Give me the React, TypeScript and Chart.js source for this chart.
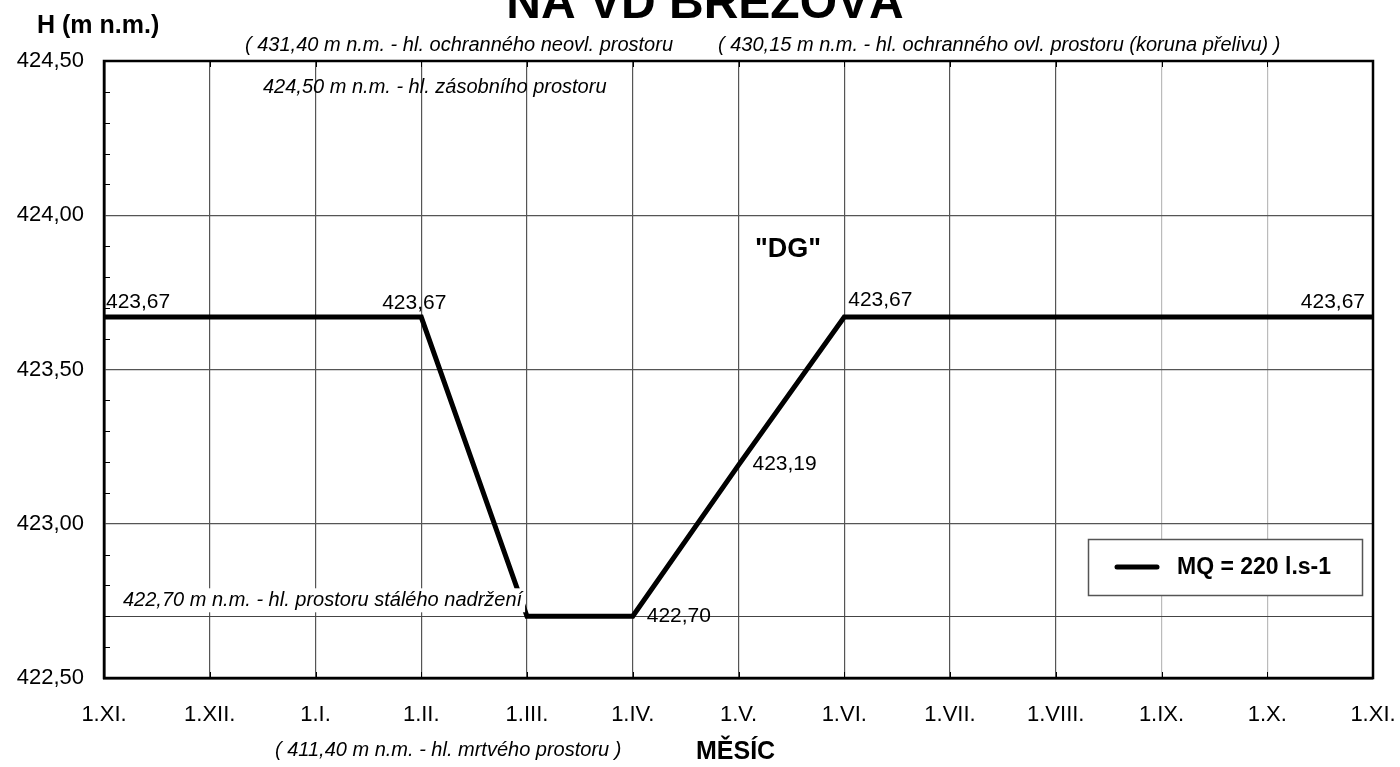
import React, { useEffect, useRef } from "react";
import { Chart, registerables } from "chart.js";

Chart.register(...registerables);

// ---------------- data ----------------
const chartTitle = "NA VD BŘEZOVÁ";
const yAxisTitle = "H (m n.m.)";
const xAxisTitle = "MĚSÍC";
const curveName = '"DG"';
const seriesName = "MQ = 220 l.s-1";

const months = [
  "1.XI.", "1.XII.", "1.I.", "1.II.", "1.III.", "1.IV.", "1.V.",
  "1.VI.", "1.VII.", "1.VIII.", "1.IX.", "1.X.", "1.XI.",
];
const levelMQ = [
  423.67, 423.67, 423.67, 423.67, 422.7, 422.7, 423.19,
  423.67, 423.67, 423.67, 423.67, 423.67, 423.67,
];
const labeledIdx = [0, 3, 5, 6, 7, 12];

const yMin = 422.5;
const yMax = 424.5;
const yStep = 0.5;
const yMinorStep = 0.1;
const reserveLevel = 422.7; // hl. prostoru stálého nadržení

const noteUpperLeft = "( 431,40 m n.m. - hl. ochranného neovl. prostoru";
const noteUpperRight = "( 430,15 m n.m. - hl. ochranného ovl. prostoru (koruna přelivu) )";
const noteStorage = "424,50 m n.m. - hl. zásobního prostoru";
const noteReserve = "422,70 m n.m. - hl. prostoru stálého nadržení";
const noteDead = "( 411,40 m n.m. - hl. mrtvého prostoru )";

// ---------------- styles ----------------
const FONT = '"Liberation Sans", Arial, Helvetica, sans-serif';
const labelPlacement: Record<number, { align: CanvasTextAlign; dx: number; dy: number }> = {
  0: { align: "left", dx: 2, dy: -15 },
  3: { align: "center", dx: -7, dy: -14 },
  5: { align: "left", dx: 14, dy: 0 },
  6: { align: "left", dx: 14, dy: -1 },
  7: { align: "left", dx: 4, dy: -17 },
  12: { align: "right", dx: -8, dy: -15 },
};

const fmt = (v: number) => v.toFixed(2).replace(".", ",");

const decorPlugin = {
  id: "decor",
  beforeDatasetsDraw(chart: any) {
    const { ctx, chartArea: a, scales } = chart;
    const y = scales.y;
    const x = scales.x;
    ctx.save();
    // reserve level line
    ctx.strokeStyle = "#444";
    ctx.lineWidth = 1.2;
    const yr = Math.round(y.getPixelForValue(reserveLevel)) + 0.5;
    ctx.beginPath();
    ctx.moveTo(a.left, yr);
    ctx.lineTo(a.right, yr);
    ctx.stroke();
    // minor ticks on y
    ctx.strokeStyle = "#000";
    ctx.lineWidth = 1;
    const n = Math.round((yMax - yMin) / yMinorStep);
    for (let i = 1; i < n; i++) {
      const v = yMin + i * yMinorStep;
      if (Math.abs(v / yStep - Math.round(v / yStep)) < 1e-6) continue;
      const py = Math.round(y.getPixelForValue(v)) + 0.5;
      ctx.beginPath();
      ctx.moveTo(a.left, py);
      ctx.lineTo(a.left + 6, py);
      ctx.stroke();
    }
    // x ticks inside top and bottom
    for (let i = 0; i < months.length; i++) {
      const px = Math.round(x.getPixelForValue(i)) + 0.5;
      ctx.beginPath();
      ctx.moveTo(px, a.top);
      ctx.lineTo(px, a.top + 6);
      ctx.moveTo(px, a.bottom);
      ctx.lineTo(px, a.bottom - 6);
      ctx.stroke();
    }
    ctx.restore();
  },
  afterDatasetsDraw(chart: any) {
    const { ctx, chartArea: a, scales } = chart;
    const y = scales.y;
    const meta = chart.getDatasetMeta(0);
    ctx.save();
    ctx.fillStyle = "#000";
    ctx.textBaseline = "middle";

    // reserve note with white box
    ctx.font = `italic 20px ${FONT}`;
    const yr = y.getPixelForValue(reserveLevel);
    const w = ctx.measureText(noteReserve).width;
    const nx = a.left + 19;
    const ny = yr - 16;
    ctx.fillStyle = "#fff";
    ctx.fillRect(nx - 5, ny - 12, w + 8, 24);
    ctx.fillStyle = "#000";
    ctx.textAlign = "left";
    ctx.fillText(noteReserve, nx, ny);

    // data labels
    ctx.font = `21px ${FONT}`;
    labeledIdx.forEach((i) => {
      const el = meta.data[i];
      const p = labelPlacement[i];
      ctx.textAlign = p.align;
      ctx.fillText(fmt(levelMQ[i]), el.x + p.dx, el.y + p.dy);
    });

    // storage note
    ctx.font = `italic 20px ${FONT}`;
    ctx.textAlign = "left";
    ctx.fillText(noteStorage, 263, y.getPixelForValue(yMax) + 26);

    // "DG"
    ctx.font = `bold 27px ${FONT}`;
    ctx.fillText(curveName, 755, 250);

    // legend box
    const lx = 1088, ly = 539, lw = 274, lh = 56;
    ctx.fillStyle = "#fff";
    ctx.fillRect(lx, ly, lw, lh);
    ctx.strokeStyle = "#555";
    ctx.lineWidth = 1.5;
    ctx.strokeRect(lx + 0.5, ly + 0.5, lw, lh);
    ctx.strokeStyle = "#000";
    ctx.lineWidth = 5;
    ctx.lineCap = "round";
    ctx.beginPath();
    ctx.moveTo(1117, ly + lh / 2);
    ctx.lineTo(1157, ly + lh / 2);
    ctx.stroke();
    ctx.fillStyle = "#000";
    ctx.font = `bold 23px ${FONT}`;
    ctx.fillText(seriesName, 1177, ly + lh / 2 + 1);

    // frame
    ctx.lineCap = "butt";
    ctx.strokeStyle = "#000";
    ctx.lineWidth = 2.5;
    ctx.strokeRect(a.left, a.top, a.right - a.left, a.bottom - a.top);
    ctx.restore();
  },
  afterDraw(chart: any) {
    const { ctx } = chart;
    ctx.save();
    ctx.fillStyle = "#000";
    ctx.textBaseline = "alphabetic";
    ctx.textAlign = "center";
    ctx.font = `bold 48px ${FONT}`;
    ctx.fillText(chartTitle, 705, 18);

    ctx.textBaseline = "middle";
    ctx.textAlign = "left";
    ctx.font = `bold 25px ${FONT}`;
    ctx.fillText(yAxisTitle, 37, 26);

    ctx.font = `italic 20px ${FONT}`;
    ctx.fillText(noteUpperLeft, 245, 45);
    ctx.fillText(noteUpperRight, 718, 45);
    ctx.fillText(noteDead, 275, 750);

    ctx.font = `bold 25px ${FONT}`;
    ctx.fillText(xAxisTitle, 696, 752);
    ctx.restore();
  },
};

export default function App() {
  const ref = useRef<HTMLCanvasElement | null>(null);

  useEffect(() => {
    if (!ref.current) return;
    const chart = new Chart(ref.current, {
      type: "line",
      data: {
        labels: months,
        datasets: [
          {
            label: seriesName,
            data: levelMQ,
            borderColor: "#000",
            borderWidth: 5,
            borderJoinStyle: "miter",
            pointRadius: 0,
            tension: 0,
            fill: false,
          },
        ],
      },
      options: {
        animation: false,
        responsive: false,
        maintainAspectRatio: false,
        layout: { padding: { left: 0, right: 27, top: 61, bottom: 0 } },
        plugins: {
          legend: { display: false },
          tooltip: { enabled: false },
          title: { display: false },
        },
        scales: {
          x: {
            type: "category",
            offset: false,
            grid: {
              color: (c: any) => (c.index === 10 || c.index === 11 ? "#bbb" : "#555"),
              lineWidth: 1.2,
              drawTicks: false,
            },
            border: { display: true, color: "#000", width: 2.5 },
            ticks: {
              color: "#000",
              font: { family: FONT, size: 22 },
              padding: 24,
              maxRotation: 0,
              autoSkip: false,
            },
            afterFit: (s: any) => {
              s.height = 89;
              s.paddingLeft = 0;
              s.paddingRight = 0;
            },
          },
          y: {
            min: yMin,
            max: yMax,
            grid: { color: "#555", lineWidth: 1.2, drawTicks: false },
            border: { display: true, color: "#000", width: 2.5 },
            ticks: {
              stepSize: yStep,
              color: "#000",
              font: { family: FONT, size: 22 },
              padding: 20,
              callback: (v: any) => fmt(Number(v)),
            },
            afterFit: (s: any) => {
              s.width = 104;
              s.paddingTop = 0;
              s.paddingBottom = 0;
            },
          },
        },
      },
      plugins: [decorPlugin],
    });
    return () => chart.destroy();
  }, []);

  return (
    <div style={{ position: "absolute", left: 0, top: 0, width: 1400, height: 767, background: "#fff" }}>
      <canvas ref={ref} width={1400} height={767} style={{ display: "block" }} />
    </div>
  );
}
